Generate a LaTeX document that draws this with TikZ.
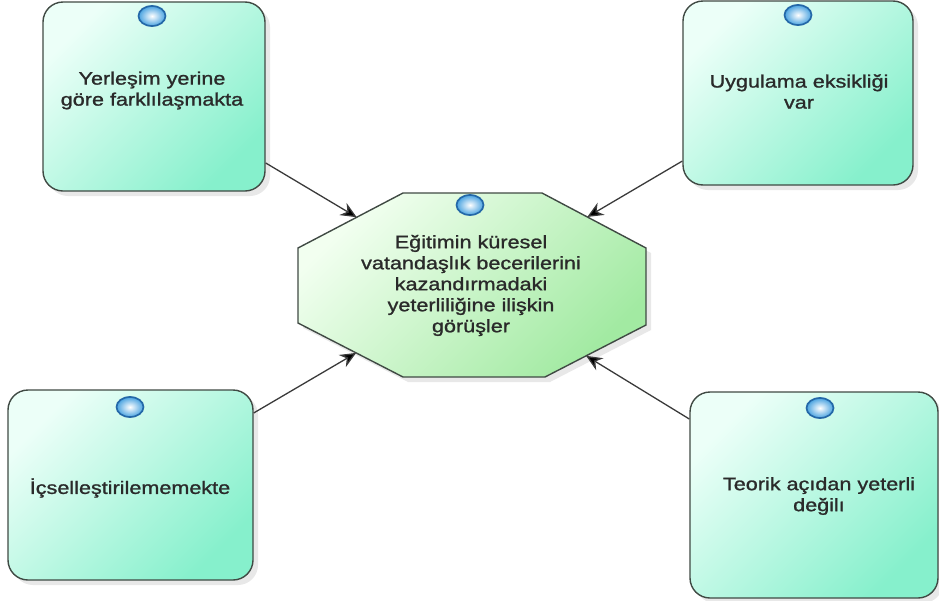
\documentclass[tikz,border=0pt]{standalone}
\usepackage{fontspec}
\setmainfont{Liberation Sans}[FakeStretch=1.2,FakeBold=1.2]
\usetikzlibrary{arrows.meta,shadows,intersections,shapes.geometric}
\definecolor{boxtop}{HTML}{ECFFF8}
\definecolor{boxbot}{HTML}{86F0CC}
\definecolor{octtop}{HTML}{F2FFF0}
\definecolor{octbot}{HTML}{A2EAA2}
\definecolor{edgecol}{HTML}{404A44}
\definecolor{txtcol}{HTML}{2A2A2A}
\definecolor{conncol}{HTML}{3A3A3A}
\definecolor{beadline}{HTML}{2468A8}
\definecolor{beadfill}{HTML}{48A2E0}
\begin{document}
\begin{tikzpicture}[x=1pt,y=-1pt]
\useasboundingbox (0,0) rectangle (939,600);
\tikzset{
  card/.style={draw=edgecol, line width=1.4pt, rounded corners=20pt,
    top color=boxtop, bottom color=boxbot, shading angle=45,
    drop shadow={opacity=0.18, shadow xshift=5pt, shadow yshift=-5pt},
    inner sep=0pt},
  lbl/.style={align=center, font=\fontsize{18}{21}\selectfont, text=txtcol, inner sep=0pt},
  bead/.style={ellipse, minimum width=27pt, minimum height=20pt, inner sep=0pt,
    draw=beadline, line width=1.7pt, inner color=white, outer color=beadfill},
  conn/.style={draw=conncol, line width=1.3pt, -{Stealth[length=16pt,width=14pt,fill=black]}},
}
% octagon
\path[draw=edgecol, line width=1.4pt, top color=octtop, bottom color=octbot, shading angle=45,
  drop shadow={opacity=0.18, shadow xshift=5pt, shadow yshift=-5pt}, name path=octp]
  (403,193) -- (542,193) -- (646,248) -- (646,325) -- (545,377) -- (403,377) -- (298,323) -- (298,248) -- cycle;
\node[lbl] (oct) at (471,285.5) {Eğitimin küresel\\vatandaşlık becerilerini\\kazandırmadaki\\yeterliliğine ilişkin\\görüşler};
\node[bead] (b0) at (470,205) {};
% cards
\node[card, minimum width=222pt, minimum height=189pt] (tl) at (154,96.5) {};
\node[card, minimum width=230pt, minimum height=184pt] (tr) at (798,93) {};
\node[card, minimum width=245pt, minimum height=190pt] (bl) at (130.5,485) {};
\node[card, minimum width=248pt, minimum height=206pt] (br) at (814,495) {};
\node[lbl] (tlt) at (152,90.5) {Yerleşim yerine\\göre farklılaşmakta};
\node[lbl] (trt) at (799,91.5) {Uygulama eksikliği\\var};
\node[lbl] (blt) at (130,488) {İçselleştirilememekte};
\node[lbl] (brt) at (819,496) {Teorik açıdan yeterli\\değilı};
\node[bead] (b1) at (152,16) {};
\node[bead] (b2) at (798,15) {};
\node[bead] (b3) at (130,407) {};
\node[bead] (b4) at (820,408) {};
% connectors
\path[name path=p1] (tl) -- (oct.center);
\path[name path=p2] (tr) -- (oct.center);
\path[name path=p3] (bl) -- (oct.center);
\path[name path=p4] (br) -- (oct.center);
\draw[conn, name intersections={of=p1 and octp, by=e1}] (tl) -- (e1);
\draw[conn, name intersections={of=p2 and octp, by=e2}] (tr) -- (e2);
\draw[conn, name intersections={of=p3 and octp, by=e3}] (bl) -- (e3);
\draw[conn, name intersections={of=p4 and octp, by=e4}] (br) -- (e4);
\end{tikzpicture}
\end{document}
